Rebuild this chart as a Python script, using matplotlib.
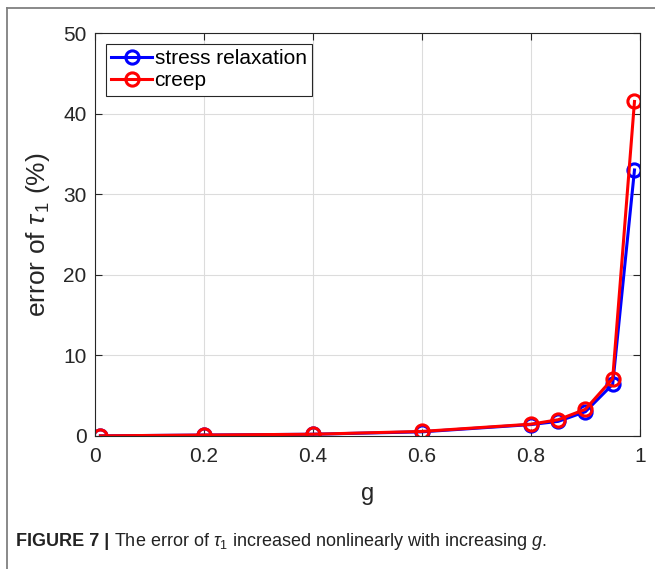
import matplotlib
matplotlib.use("Agg")
import matplotlib.pyplot as plt
from matplotlib.lines import Line2D

plt.rcParams['font.family'] = ['Liberation Sans', 'DejaVu Sans']
plt.rcParams['mathtext.fontset'] = 'custom'
plt.rcParams['mathtext.rm'] = 'Liberation Sans'
plt.rcParams['mathtext.it'] = 'Liberation Sans:italic'

# data
g = [0.01, 0.2, 0.4, 0.6, 0.8, 0.85, 0.9, 0.95, 0.99]
err_relax = [0.0, 0.1, 0.2, 0.5, 1.4, 1.8, 3.0, 6.4, 33.0]
err_creep = [0.0, 0.1, 0.2, 0.55, 1.45, 2.0, 3.3, 7.1, 41.5]

xticks = [0, 0.2, 0.4, 0.6, 0.8, 1]
xticklabels = ['0', '0.2', '0.4', '0.6', '0.8', '1']
yticks = [0, 10, 20, 30, 40, 50]

fig = plt.figure(figsize=(6.55, 5.69), dpi=100)
ax = fig.add_axes([0.145, 0.234, 0.832, 0.708])

txtc = '#262626'
ax.plot(g, err_relax, '-o', color='#0000ff', lw=2.2, ms=9.5, mfc='none', mew=2.2,
        label='stress relaxation')
ax.plot(g, err_creep, '-o', color='#ff0000', lw=2.2, ms=9.5, mfc='none', mew=2.2,
        label='creep')

ax.set_xlim(0, 1)
ax.set_ylim(0, 50)
ax.set_xticks(xticks)
ax.set_xticklabels(xticklabels)
ax.set_yticks(yticks)
ax.grid(True, color='#dcdcdc', lw=0.8)
ax.set_axisbelow(True)
ax.tick_params(direction='in', top=True, right=True, length=5, width=0.8,
               colors=txtc, labelsize=15)
ax.tick_params(axis='x', pad=8)
ax.tick_params(axis='y', pad=6)
for s in ax.spines.values():
    s.set_color(txtc)
    s.set_linewidth(0.8)

ax.set_xlabel('g', fontsize=17, color=txtc, labelpad=12)
ax.set_ylabel(r'error of $\tau_{\,1}$ (%)', fontsize=19, color=txtc, labelpad=8)

leg = ax.legend(loc='upper left', bbox_to_anchor=(0.008, 0.988), fontsize=15,
                frameon=True, fancybox=False, edgecolor=txtc, framealpha=1,
                handlelength=2.0, handletextpad=0.1, borderpad=0.25,
                labelspacing=0.15, borderaxespad=0.3)
leg.get_frame().set_linewidth(0.8)

# outer frame of the figure panel
fig.add_artist(Line2D([7/655, 7/655], [0, 1 - 8/569], color='#808080', lw=1.3,
                      transform=fig.transFigure))
fig.add_artist(Line2D([7/655, 1], [1 - 8/569, 1 - 8/569], color='#808080', lw=1.3,
                      transform=fig.transFigure))

cap_y = 1 - 541/569
t1 = fig.text(16/655, cap_y, 'FIGURE 7 | ', fontsize=13, fontweight='bold',
              color='#222222', va='center', ha='left')
fig.canvas.draw()
bb = t1.get_window_extent()
fig.text(bb.x1 / fig.bbox.width, cap_y,
         r'The error of $\tau_1$ increased nonlinearly with increasing $g$.',
         fontsize=13, color='#222222', va='center', ha='left')

fig.savefig('out.png', dpi=100)
